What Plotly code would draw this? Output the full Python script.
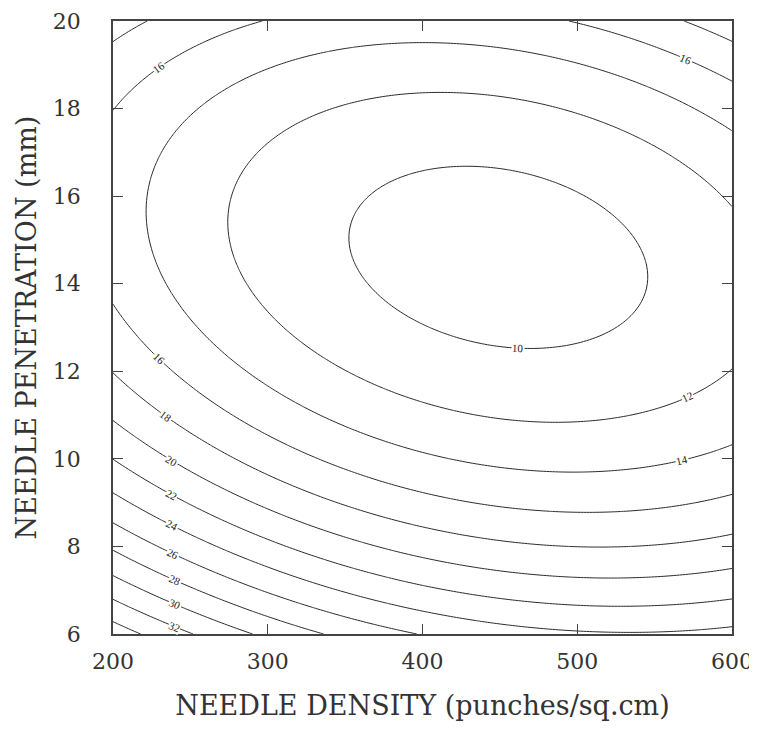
import numpy as np
import plotly.graph_objects as go

# Contour crossings
# (contour level, needle density, needle penetration)
pt_level = [10, 10, 10, 10, 10, 10, 10,
            12, 12, 12, 12, 12, 12, 12, 12, 12,
            14, 14, 14, 14, 14, 14, 14, 14,
            16, 16, 16, 16, 16, 16, 16, 16, 16,
            18, 18, 18, 18, 18, 18, 18, 18, 18,
            20, 20, 20, 20, 20,
            22, 22, 22, 22,
            24, 24, 24, 24,
            26, 26, 28, 28, 30, 30, 32, 32, 34, 34]
pt_density = [350, 408, 431, 528, 549, 471, 400,
              274, 314, 405, 500, 600, 398, 495, 557, 600,
              221, 256, 405, 500, 600, 398, 502, 600,
              200, 297, 500, 600, 200, 230, 398, 495, 600,
              200, 224, 568, 600, 200, 234, 398, 506, 600,
              200, 238, 398, 506, 600,
              200, 398, 515, 600,
              200, 398, 600, 492,
              200, 398, 200, 336, 200, 292, 200, 256, 200, 219]
pt_penetration = [15.18, 16.67, 16.71, 15.57, 14.13, 12.44, 13.0,
                  15.5, 12.83, 18.36, 17.85, 15.8, 11.28, 10.82, 11.53, 11.99,
                  15.41, 12.9, 19.5, 19.0, 17.51, 10.14, 9.68, 10.27,
                  17.97, 20.0, 20.0, 18.61, 13.52, 12.44, 9.25, 8.77, 9.2,
                  19.57, 20.0, 20.0, 19.52, 11.92, 11.12, 8.49, 7.97, 8.26,
                  10.82, 10.14, 7.76, 7.28, 7.51,
                  9.93, 7.12, 6.64, 6.83,
                  9.22, 6.55, 6.19, 6.0,
                  8.54, 6.0, 7.85, 6.0, 7.31, 6.0, 6.74, 6.0, 6.27, 6.0]

# Contour labels: level, density where the label sits, which branch
label_level = [16, 16, 10, 12, 14, 16, 18, 20, 22, 24, 26, 28, 30, 32]
label_density = [230, 570, 462, 571, 568, 230, 234, 238, 238, 238, 239, 240, 240, 240]
label_branch = ["upper", "upper", "lower", "lower", "lower", "lower", "lower",
                "lower", "lower", "lower", "lower", "lower", "lower", "lower"]

x_ticks = [200, 300, 400, 500, 600]
y_ticks = [6, 8, 10, 12, 14, 16, 18, 20]

# page body has an 8px margin, so the figure is a bit smaller than the window
W, H = 749, 728
ML, MT = 105, 13
PW, PH = 619, 613
MR, MB = W - ML - PW, H - MT - PH


def basis(x, y):
    u = (np.asarray(x, float) - 400) / 200
    v = (np.asarray(y, float) - 13) / 7
    return np.stack([np.ones_like(u), u, v, u * u, v * v, u * v], axis=-1)


coef, *_ = np.linalg.lstsq(basis(pt_density, pt_penetration),
                           np.asarray(pt_level, float), rcond=None)
b0, b1, b2, b11, b22, b12 = coef

xs = np.linspace(200, 600, 201)
ys = np.linspace(6, 20, 141)
XX, YY = np.meshgrid(xs, ys)
ZZ = basis(XX, YY) @ coef

fig = go.Figure()
fig.add_trace(go.Contour(
    x=xs, y=ys, z=ZZ,
    autocontour=False,
    contours=dict(start=10, end=36, size=2, coloring="none", showlabels=False),
    line=dict(color="#2b2b2b", width=1),
    showscale=False, hoverinfo="skip",
))

annotations = []
kx = PW / 400.0
ky = PH / 14.0
for lev, xd, br in zip(label_level, label_density, label_branch):
    u = (xd - 400) / 200
    a2 = b22
    a1 = b2 + b12 * u
    a0 = b0 + b1 * u + b11 * u * u - lev
    disc = a1 * a1 - 4 * a2 * a0
    if disc < 0:
        continue
    r1 = (-a1 + np.sqrt(disc)) / (2 * a2)
    r2 = (-a1 - np.sqrt(disc)) / (2 * a2)
    v = max(r1, r2) if br == "upper" else min(r1, r2)
    yd = 13 + 7 * v
    dzdu = b1 + 2 * b11 * u + b12 * v
    dzdv = b2 + 2 * b22 * v + b12 * u
    gsx = dzdu / 200 / kx
    gsy = -dzdv / 7 / ky
    tx, ty = gsy, -gsx
    if tx < 0:
        tx, ty = -tx, -ty
    ang = float(np.degrees(np.arctan2(ty, tx)))
    annotations.append(dict(
        x=xd, y=yd, xref="x", yref="y", text=str(lev), showarrow=False,
        textangle=ang, bgcolor="white", borderpad=0,
        font=dict(family="Liberation Serif", size=11, color="#222222"),
    ))

axis_common = dict(
    showgrid=False, zeroline=False, showline=True, linecolor="#444",
    linewidth=1.5, mirror="ticks", ticks="inside", ticklen=10,
    tickcolor="#444", tickwidth=1,
    tickfont=dict(family="DejaVu Serif", size=22, color="#333"),
)

fig.update_layout(
    width=W, height=H,
    margin=dict(l=ML, r=MR, t=MT, b=MB, autoexpand=False),
    paper_bgcolor="white", plot_bgcolor="white",
    showlegend=False,
    annotations=annotations,
    xaxis=dict(range=[200, 600], tickvals=x_ticks,
               ticktext=[str(t) for t in x_ticks],
               ticklabelstandoff=7,
               title=dict(text="NEEDLE DENSITY (punches/sq.cm)", standoff=23,
                          font=dict(family="DejaVu Serif", size=27, color="#333")),
               **axis_common),
    yaxis=dict(range=[6, 20], tickvals=y_ticks,
               ticktext=[str(t) for t in y_ticks],
               ticklabelstandoff=26,
               title=dict(text="NEEDLE PENETRATION (mm)", standoff=8,
                          font=dict(family="DejaVu Serif", size=27, color="#333")),
               **axis_common),
)

fig.write_html("out.html")
